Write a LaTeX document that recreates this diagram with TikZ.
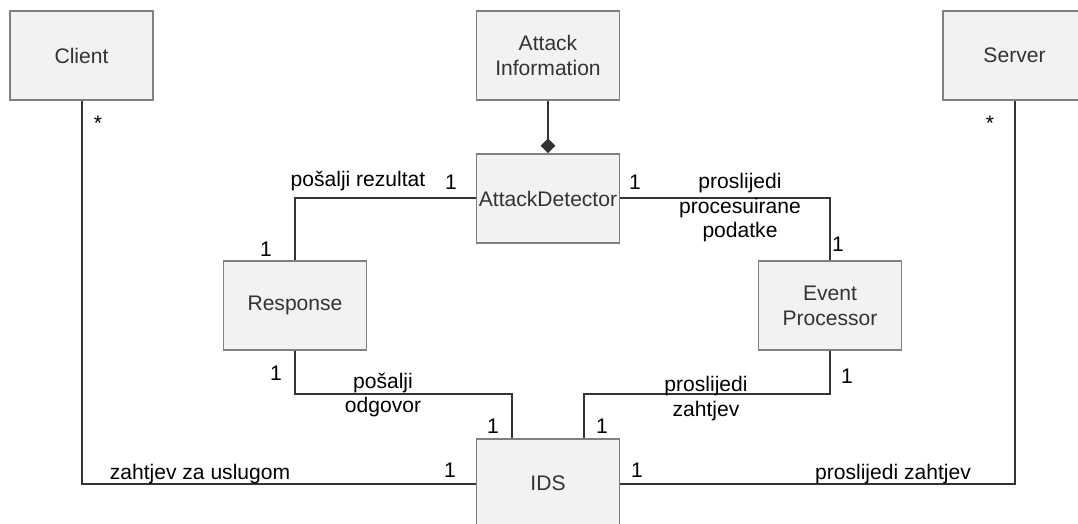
\documentclass[tikz,border=0pt]{standalone}
\usepackage{fontspec}
\setmainfont{Liberation Sans}
\usetikzlibrary{arrows.meta}
\definecolor{boxfill}{HTML}{F2F2F2}
\definecolor{boxline}{HTML}{808080}
\definecolor{conncol}{HTML}{333333}
\definecolor{boxtext}{HTML}{333333}
\begin{document}
\begin{tikzpicture}[x=0.75pt,y=-0.75pt,
  cls/.style={draw=boxline, fill=boxfill, line width=1.4pt, minimum width=107.25pt, minimum height=66.75pt,
    inner sep=0pt, align=center, text=boxtext, font=\fontsize{15.8}{18.75}\selectfont},
  conn/.style={draw=conncol, line width=1.5pt},
  lbl/.style={inner sep=0pt, anchor=base, text=black, font=\fontsize{15.8}{18.75}\selectfont}]
\useasboundingbox (0,0) rectangle (1078,524);
% classes
\node[cls] (client) at (81.5,55.5) {Client};
\node[cls] (ai) at (548,55.5) {Attack\\Information};
\node[cls] (server) at (1014.5,55.5) {Server};
\node[cls] (ad) at (548,198.5) {AttackDetector};
\node[cls] (resp) at (295,305.5) {Response};
\node[cls] (ep) at (830,305.5) {Event\\Processor};
\node[cls] (ids) at (548,483.5) {IDS};
% connectors
\draw[conn, -{Diamond[length=11pt, width=11pt]}] (ai) -- (ad);
\draw[conn] (ad.west) -| (resp.north);
\draw[conn] (ad.east) -| (ep.north);
\draw[conn] (resp.south) -- (resp.south |- 0,394) -| ([xshift=-27pt]ids.north);
\draw[conn] (ep.south) -- (ep.south |- 0,394) -| ([xshift=27pt]ids.north);
\draw[conn] (client.south) |- (ids.west);
\draw[conn] (server.south) |- (ids.east);
% labels
\node[lbl] (s1) at (98,131) {*};
\node[lbl] (s2) at (990,131) {*};
\node[lbl] (l1) at (358,186) {pošalji rezultat};
\node[lbl] (m1) at (451,190) {1};
\node[lbl] (m2) at (266,257) {1};
\node[lbl] (m3) at (635,190) {1};
\node[lbl] (l2a) at (740,189) {proslijedi};
\node[lbl] (l2b) at (740,214) {procesuirane};
\node[lbl] (l2c) at (740,238) {podatke};
\node[lbl] (m4) at (838,252) {1};
\node[lbl] (m5) at (276,380) {1};
\node[lbl] (l3a) at (383,388) {pošalji};
\node[lbl] (l3b) at (383,412) {odgovor};
\node[lbl] (m6) at (493,433) {1};
\node[lbl] (m7) at (602,433) {1};
\node[lbl] (l4a) at (706,391) {proslijedi};
\node[lbl] (l4b) at (706,416) {zahtjev};
\node[lbl] (m8) at (847,383) {1};
\node[lbl] (l5) at (200,479) {zahtjev za uslugom};
\node[lbl] (m9) at (450,477) {1};
\node[lbl] (m10) at (637,477) {1};
\node[lbl] (l6) at (893,479) {proslijedi zahtjev};
\end{tikzpicture}
\end{document}
